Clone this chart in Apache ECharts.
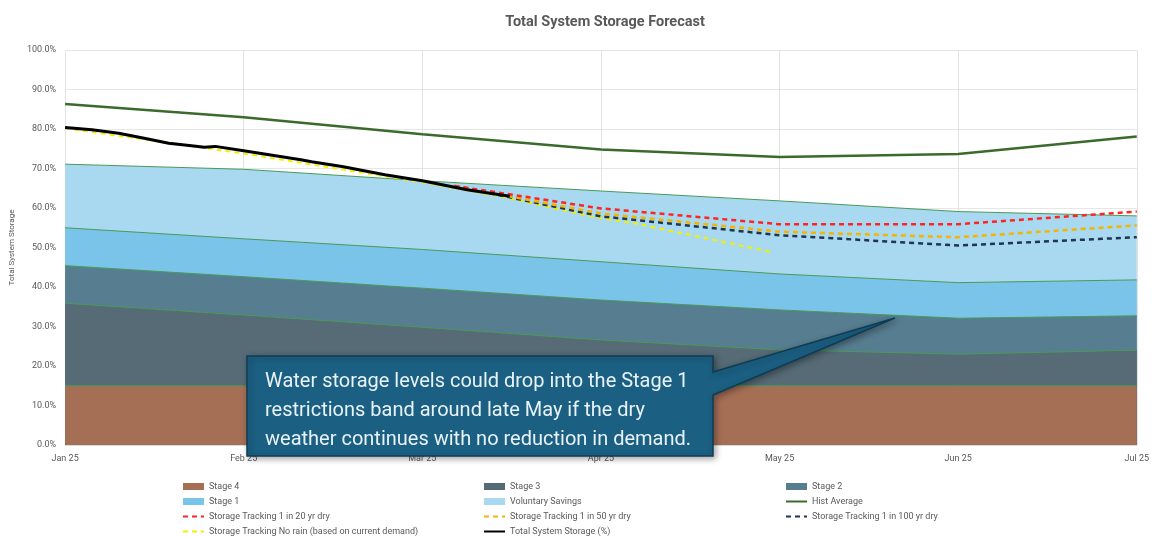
<!DOCTYPE html>
<html><head><meta charset="utf-8">
<script src="https://cdn.jsdelivr.net/npm/echarts@6/dist/echarts.min.js"></script>
<style>html,body{margin:0;padding:0;background:#fff}#c{width:1152px;height:537px}</style>
</head><body><div id="c"></div>
<script>
const monthLabels = ['Jan 25','Feb 25','Mar 25','Apr 25','May 25','Jun 25','Jul 25'];
const monthPos = [0,1,2,3,4,5,6];
const stage4Top = [15,15,15,15,15,15,15];
const stage3Top = [35.9,32.9,29.8,26.6,24.1,23.0,24.0];
const stage2Top = [45.4,42.6,39.7,36.7,34.2,32.1,32.7];
const stage1Top = [55.0,52.2,49.5,46.4,43.3,41.1,41.8];
const voluntaryTop = [71.1,69.8,66.9,64.3,61.8,59.1,58.0];
const histAverage = [86.3,83.0,78.7,74.8,72.9,73.7,78.1];
const totalX = [0,0.15,0.3,0.45,0.58,0.72,0.78,0.84,1.0,1.32,1.38,1.55,1.79,2.0,2.25,2.49];
const totalY = [80.4,79.8,78.9,77.6,76.4,75.7,75.4,75.6,74.5,72.2,71.7,70.5,68.4,66.9,64.6,63.0];
const dry20X = [2.18,3,4,5,6];
const dry20Y = [65.6,59.9,55.9,55.9,59.1];
const dry50X = [2.18,3,4,5,6];
const dry50Y = [65.6,58.6,54.0,52.6,55.6];
const dry100X = [2.18,3,4,5,6];
const dry100Y = [65.6,57.9,53.1,50.5,52.6];
const noRainX = [0,1,2,2.44,3,3.18,3.55,3.95];
const noRainY = [80.2,73.8,66.5,62.9,57.4,56.2,52.7,48.9];
const calloutLines = ['Water storage levels could drop into the Stage 1','restrictions band around late May if the dry','weather continues with no reduction in demand.'];

const pairs = (xs, ys) => xs.map((x, i) => [x, ys[i]]);
const bandEdge = '#4a9a58';
function band(name, top, color) {
  return {
    name, type: 'line', symbol: 'none', smooth: false,
    data: pairs(monthPos, top),
    lineStyle: { color: bandEdge, width: 1 },
    itemStyle: { color: color, borderColor: bandEdge },
    areaStyle: { color: color, opacity: 1 },
    z: 1
  };
}
function dashed(name, xs, ys, color, w) {
  return {
    name, type: 'line', symbol: 'none', data: pairs(xs, ys),
    lineStyle: { color, width: w || 2.5, type: [5, 4] },
    itemStyle: { color }, z: 4
  };
}
const txt = '#595959';
const legendBase = { orient: 'vertical', top: 482, padding: 0, itemWidth: 21, itemHeight: 7, itemGap: 6,
  textStyle: { color: txt, fontSize: 9, lineHeight: 9, fontFamily: 'Roboto' } };
const rectIcon = n => ({ name: n, icon: 'rect' });
const lineIcon = n => ({ name: n, itemStyle: { opacity: 0 } });

const chart = echarts.init(document.getElementById('c'), null, { renderer: 'canvas' });
chart.setOption({
  animation: false,
  backgroundColor: '#fff',
  title: { text: 'Total System Storage Forecast', left: 600, top: 10, textAlign: 'center',
    textStyle: { color: txt, fontSize: 14.5, fontWeight: 'bold', fontFamily: 'Roboto' } },
  grid: { left: 62, right: 12, top: 50, bottom: 92, containLabel: false },
  xAxis: { type: 'value', min: 0, max: 6, interval: 1,
    axisLine: { show: true, lineStyle: { color: '#d9d9d9' } }, axisTick: { show: false },
    axisLabel: { color: txt, fontSize: 9, fontFamily: 'Roboto', margin: 9, formatter: v => monthLabels[v] || '' },
    splitLine: { show: true, lineStyle: { color: '#e3e3e3' } } },
  yAxis: { type: 'value', min: 0, max: 100, interval: 10,
    name: 'Total System Storage', nameLocation: 'middle', nameGap: 43,
    nameTextStyle: { color: txt, fontSize: 8, fontFamily: 'Roboto' },
    axisLine: { show: false }, axisTick: { show: false },
    axisLabel: { color: txt, fontSize: 9, fontFamily: 'Roboto', margin: 9, formatter: v => v.toFixed(1) + '%' },
    splitLine: { show: true, lineStyle: { color: '#e6e6e6' } } },
  legend: [
    Object.assign({}, legendBase, { left: 182, data: [rectIcon('Stage 4'), rectIcon('Stage 1'), lineIcon('Storage Tracking 1 in 20 yr dry'), lineIcon('Storage Tracking No rain (based on current demand)')] }),
    Object.assign({}, legendBase, { left: 483, data: [rectIcon('Stage 3'), rectIcon('Voluntary Savings'), lineIcon('Storage Tracking 1 in 50 yr dry'), lineIcon('Total System Storage (%)')] }),
    Object.assign({}, legendBase, { left: 785, data: [rectIcon('Stage 2'), lineIcon('Hist Average'), lineIcon('Storage Tracking 1 in 100 yr dry')] })
  ],
  series: [
    band('Voluntary Savings', voluntaryTop, '#a8d9f0'),
    band('Stage 1', stage1Top, '#79c4e8'),
    band('Stage 2', stage2Top, '#577d90'),
    band('Stage 3', stage3Top, '#566b76'),
    band('Stage 4', stage4Top, '#a56f55'),
    { name: 'Hist Average', type: 'line', symbol: 'none', data: pairs(monthPos, histAverage),
      lineStyle: { color: '#3b6a2c', width: 2.5 }, itemStyle: { color: '#3b6a2c' }, z: 3 },
    dashed('Storage Tracking No rain (based on current demand)', noRainX, noRainY, '#f2f000', 2),
    { name: 'Total System Storage (%)', type: 'line', symbol: 'none', data: pairs(totalX, totalY),
      lineStyle: { color: '#000', width: 3 }, itemStyle: { color: '#000' }, z: 5 },
    dashed('Storage Tracking 1 in 100 yr dry', dry100X, dry100Y, '#1f3550'),
    dashed('Storage Tracking 1 in 50 yr dry', dry50X, dry50Y, '#f4b400'),
    dashed('Storage Tracking 1 in 20 yr dry', dry20X, dry20Y, '#ff2424')
  ],
  graphic: [
    { type: 'polygon', z: 100,
      shape: { points: [[247,356],[713,356],[713,372],[895,318],[713,395],[713,456],[247,456]] },
      style: { fill: '#1b5f82', stroke: '#0f3c55', lineWidth: 1.5,
        shadowBlur: 6, shadowColor: 'rgba(0,0,0,0.35)', shadowOffsetX: 2, shadowOffsetY: 2 } },
    { type: 'text', z: 101, left: 265, top: 367,
      style: { text: calloutLines.join('\n'), fill: '#e8f3f8', fontSize: 20, lineHeight: 29,
        fontFamily: 'Roboto' } }
  ]
});
</script></body></html>
